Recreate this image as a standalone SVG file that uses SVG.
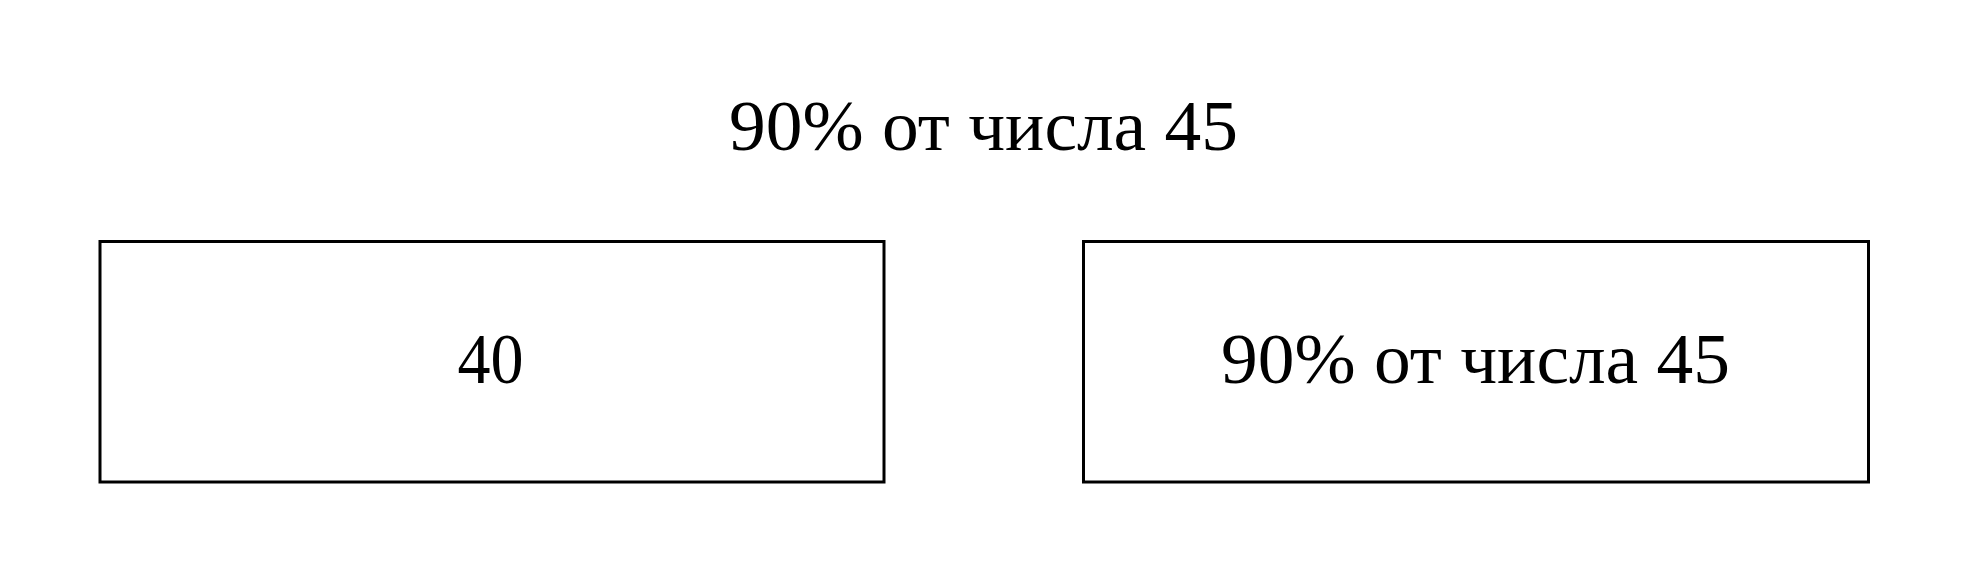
<svg xmlns="http://www.w3.org/2000/svg" width="1969" height="583" viewBox="0 0 1969 583">
<style>
.box{fill:#fff;stroke:#000;stroke-width:3}
.t{font-family:"Liberation Serif","DejaVu Serif",serif;font-size:72px;fill:#000;text-anchor:middle}
</style>
<rect width="1969" height="583" fill="#fff"/>
<g id="title"><text class="t" x="983.5" y="150" textLength="509" lengthAdjust="spacingAndGlyphs">90% от числа 45</text></g>
<g id="node-left"><rect class="box" x="100" y="241.5" width="784" height="240.5"/><text class="t" x="490.5" y="383" textLength="66" lengthAdjust="spacingAndGlyphs">40</text></g>
<g id="node-right"><rect class="box" x="1083.5" y="241.5" width="785" height="240.5"/><text class="t" x="1475.5" y="383" textLength="509" lengthAdjust="spacingAndGlyphs">90% от числа 45</text></g>
<g id="connectors"></g>
</svg>
